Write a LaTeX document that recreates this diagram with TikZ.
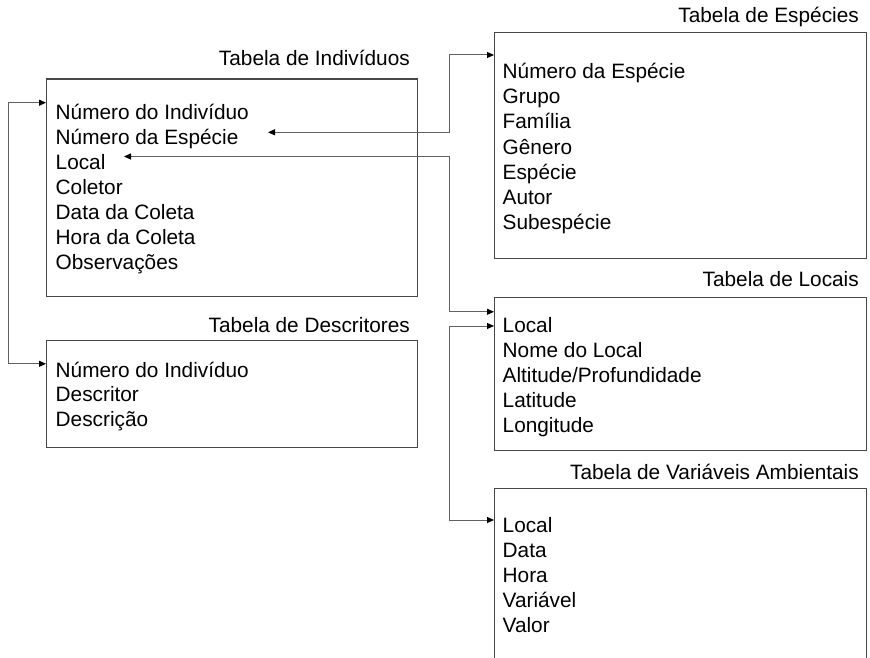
\documentclass[tikz,border=0pt]{standalone}
\usepackage{fontspec}
\setmainfont{Liberation Sans}
\usetikzlibrary{arrows.meta}
\tikzset{
  tbox/.style={draw=black!72, line width=1.3pt, rectangle, inner sep=0pt, anchor=north west},
  rowtxt/.style={anchor=base west, inner sep=0pt, font=\fontsize{20.8}{24}\selectfont, text=black},
  ttl/.style={anchor=base east, inner sep=0pt, font=\fontsize{20.8}{24}\selectfont, text=black},
  conn/.style={draw=black!62, line width=1pt, {Triangle[length=7pt,width=6pt,fill=black,color=black]}-{Triangle[length=7pt,width=6pt,fill=black,color=black]}}
}
\begin{document}
\begin{tikzpicture}[x=1pt,y=-1pt]
\useasboundingbox[fill=white] (0,0) rectangle (870,658);

% boxes
\node[tbox, minimum width=371pt, minimum height=217pt] (ind) at (46,78.5) {};
\node[tbox, minimum width=371pt, minimum height=107.5pt] (desc) at (46,339.5) {};
\node[tbox, minimum width=372pt, minimum height=226pt] (esp) at (494,32) {};
\node[tbox, minimum width=372pt, minimum height=153pt] (loc) at (494,296.5) {};
\begin{scope}
\clip (0,0) rectangle (870,658);
\node[tbox, minimum width=372pt, minimum height=200pt] (var) at (494,487.5) {};
\end{scope}

% titles
\node[ttl] (ind-t) at (410,66) {Tabela de Indivíduos};
\node[ttl] (desc-t) at (410,332) {Tabela de Descritores};
\node[ttl] (esp-t) at (859,23) {Tabela de Espécies};
\node[ttl] (loc-t) at (859,286) {Tabela de Locais};
\node[ttl] (var-t) at (859,479) {Tabela de Variáveis Ambientais};

% rows
\foreach \t [count=\i] in {Número do Indivíduo, Número da Espécie, Local, Coletor, Data da Coleta, Hora da Coleta, Observações}
  \node[rowtxt] (ind-\i) at (55.5,{119.5+25*(\i-1)}) {\t};
\foreach \t [count=\i] in {Número do Indivíduo, Descritor, Descrição}
  \node[rowtxt] (desc-\i) at (55.5,{377+24.5*(\i-1)}) {\t};
\foreach \t [count=\i] in {Número da Espécie, Grupo, Família, Gênero, Espécie, Autor, Subespécie}
  \node[rowtxt] (esp-\i) at (502.5,{79+25*(\i-1)}) {\t};
\foreach \t [count=\i] in {Local, Nome do Local, Altitude/Profundidade, Latitude, Longitude}
  \node[rowtxt] (loc-\i) at (502.5,{332+25*(\i-1)}) {\t};
\foreach \t [count=\i] in {Local, Data, Hora, Variável, Valor}
  \node[rowtxt] (var-\i) at (502.5,{532+25.2*(\i-1)}) {\t};

% connector ends
\coordinate (trunk) at (449,0);
\coordinate (leftbus) at (8.3,0);
\coordinate (indIn) at ([yshift=-24.2pt]ind.north west);
\coordinate (descIn) at ([yshift=-24.3pt]desc.north west);
\coordinate (espIn) at ([yshift=-23pt]esp.north west);
\coordinate (espEnd) at (268,132.3);
\coordinate (locEnd) at (124,156.5);
\coordinate (locIn) at ([yshift=-15.3pt]loc.north west);
\coordinate (locIn2) at ([yshift=-29.5pt]loc.north west);
\coordinate (varIn) at ([yshift=-32.5pt]var.north west);

% connectors
\draw[conn] (indIn) -- (leftbus |- indIn) -- (leftbus |- descIn) -- (descIn);
\draw[conn] (espEnd) -- (trunk |- espEnd) -- (trunk |- espIn) -- (espIn);
\draw[conn] (locEnd) -- (trunk |- locEnd) -- (trunk |- locIn) -- (locIn);
\draw[conn] (locIn2) -- (trunk |- locIn2) -- (trunk |- varIn) -- (varIn);
\end{tikzpicture}
\end{document}
